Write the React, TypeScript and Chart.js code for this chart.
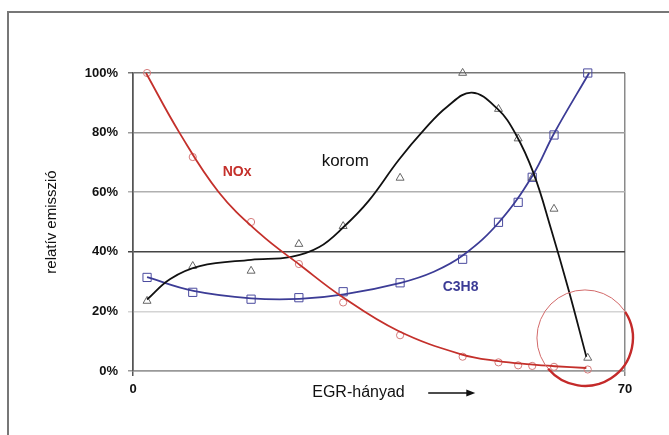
import React, { useEffect, useRef } from "react";
import { Chart, registerables } from "chart.js";

Chart.register(...registerables);

// ---- data ----
const xTicks = [0, 70];
const yTicks = [0, 20, 40, 60, 80, 100];

const egrPoints = [2, 8.5, 16.8, 23.6, 29.9, 38, 46.9, 52, 54.8, 56.8, 59.9, 64.7];
const noxMeasured = [100, 71.8, 50, 35.9, 23, 12, 4.8, 2.9, 1.9, 1.7, 1.4, 0.5];
const c3h8Measured = [31.4, 26.4, 24.1, 24.6, 26.6, 29.6, 37.5, 49.9, 56.6, 65, 79.2, 100];
const koromX = [2, 8.5, 16.8, 23.6, 29.9, 38, 46.9, 52, 54.8, 56.8, 59.9, 64.7];
const koromMeasured = [23.5, 35.2, 33.6, 42.6, 48.6, 64.8, 100, 87.9, 78, 64.8, 54.4, 4.4];

const noxCurveX = [1.85, 6.6, 12.2, 18.1, 23.8, 29.7, 37.7, 46.7, 52, 56.6, 60, 64.5];
const noxCurveY = [100, 80, 60, 46, 35.5, 25, 13.5, 5.6, 3.3, 2.2, 1.6, 1.0];

const c3h8CurveX = [2, 8.6, 16.8, 23.7, 30, 38.1, 42.8, 47, 52.1, 56.9, 59.9, 64.9];
const c3h8CurveY = [31.5, 26.9, 24.4, 24.2, 25.7, 29.6, 33.3, 38.9, 50, 65.8, 79.7, 100];

const koromCurveX = [2, 5.3, 9.5, 16.8, 22.5, 26.5, 30, 33.5, 37.8, 41.4, 44.7, 48.2, 51.8, 54.4, 57, 59.5, 62, 64.5];
const koromCurveY = [24, 30.9, 35.2, 37.3, 38.3, 41.6, 48.4, 57, 70.8, 80.9, 88.7, 93.4, 88.1, 79.7, 66.3, 47.5, 27, 4.8];

const seriesNames = ["NOx", "korom", "C3H8"];
const yTitle = "relatív emisszió";
const xTitle = "EGR-hányad";

// ---- styles ----
const RED = "#c4302b";
const BLACK = "#111111";
const BLUE = "#3c3c96";
const FONT = "'Liberation Sans', Arial, sans-serif";

const zip = (xs: number[], ys: number[]) => xs.map((x, i) => ({ x, y: ys[i] }));

const gridColors: Record<number, string> = {
  0: "#999999",
  20: "#d4d4d4",
  40: "#444444",
  60: "#b0b0b0",
  80: "#9a9a9a",
  100: "#777777",
};

const annotationPlugin = {
  id: "annotations",
  afterDraw(chart: any) {
    const { ctx, scales } = chart;
    const xs = scales.x;
    const ys = scales.y;
    ctx.save();

    // outer frame
    ctx.strokeStyle = "#777777";
    ctx.lineWidth = 2;
    ctx.beginPath();
    ctx.moveTo(8, 440);
    ctx.lineTo(8, 12);
    ctx.lineTo(680, 12);
    ctx.stroke();

    // series labels
    const labels = [
      { text: seriesNames[0], x: 14.8, y: 66.8, color: RED, font: `bold 14px ${FONT}` },
      { text: seriesNames[1], x: 30.2, y: 70.5, color: BLACK, font: `17px ${FONT}` },
      { text: seriesNames[2], x: 46.6, y: 28.1, color: BLUE, font: `bold 14px ${FONT}` },
    ];
    ctx.textAlign = "center";
    ctx.textBaseline = "middle";
    for (const l of labels) {
      ctx.fillStyle = l.color;
      ctx.font = l.font;
      ctx.fillText(l.text, xs.getPixelForValue(l.x), ys.getPixelForValue(l.y));
    }

    // x title + arrow
    const ty = ys.bottom + 22;
    ctx.fillStyle = "#111";
    ctx.font = `16px ${FONT}`;
    ctx.textAlign = "left";
    ctx.fillText(xTitle, xs.getPixelForValue(25.5), ty);
    const ax0 = xs.getPixelForValue(42.0);
    const ax1 = xs.getPixelForValue(48.7);
    ctx.strokeStyle = "#111";
    ctx.lineWidth = 1.5;
    ctx.beginPath();
    ctx.moveTo(ax0, ty);
    ctx.lineTo(ax1 - 6, ty);
    ctx.stroke();
    ctx.beginPath();
    ctx.moveTo(ax1, ty);
    ctx.lineTo(ax1 - 9, ty - 3.5);
    ctx.lineTo(ax1 - 9, ty + 3.5);
    ctx.closePath();
    ctx.fillStyle = "#111";
    ctx.fill();

    // red highlight circle
    const cx = xs.getPixelForValue(64.3);
    const cy = ys.getPixelForValue(11.1);
    const r = 48;
    ctx.strokeStyle = "#d26a6a";
    ctx.lineWidth = 1;
    ctx.beginPath();
    ctx.arc(cx, cy, r, 0, Math.PI * 2);
    ctx.stroke();
    ctx.strokeStyle = "#c42a2a";
    ctx.lineWidth = 2.4;
    ctx.beginPath();
    ctx.arc(cx, cy, r, (-33 * Math.PI) / 180, (140 * Math.PI) / 180);
    ctx.stroke();

    ctx.restore();
  },
};

export default function App() {
  const ref = useRef<HTMLCanvasElement | null>(null);

  useEffect(() => {
    if (!ref.current) return;
    const curve = (data: any[], color: string) => ({
      type: "line" as const,
      data,
      borderColor: color,
      borderWidth: 1.8,
      pointRadius: 0,
      showLine: true,
      fill: false,
      tension: 0.4,
      clip: false,
    });
    const markers = (data: any[], color: string, style: string, radius: number) => ({
      type: "scatter" as const,
      data,
      showLine: false,
      pointStyle: style,
      pointRadius: radius,
      pointBorderWidth: 1,
      pointBorderColor: color,
      pointBackgroundColor: "rgba(255,255,255,0)",
      borderColor: color,
      clip: false,
    });

    const chart = new Chart(ref.current, {
      type: "scatter",
      data: {
        datasets: [
          curve(zip(noxCurveX, noxCurveY), RED),
          curve(zip(koromCurveX, koromCurveY), BLACK),
          curve(zip(c3h8CurveX, c3h8CurveY), BLUE),
          markers(zip(egrPoints, noxMeasured), "#d47b7b", "circle", 3.6),
          markers(zip(koromX, koromMeasured), "#666666", "triangle", 4.6),
          markers(zip(egrPoints, c3h8Measured), "#4a4a9e", "rect", 5.8),
        ] as any,
      },
      options: {
        responsive: false,
        animation: false,
        devicePixelRatio: 1,
        layout: { padding: { left: 0, top: 73, right: 44, bottom: 34 } },
        plugins: { legend: { display: false }, tooltip: { enabled: false } },
        scales: {
          x: {
            type: "linear",
            min: 0,
            max: 70,
            afterBuildTicks: (s: any) => {
              s.ticks = xTicks.map((v) => ({ value: v }));
            },
            afterFit: (s: any) => {
              s.height = 30;
            },
            grid: {
              color: (c: any) => (c.tick && c.tick.value === 70 ? "#8a8a8a" : "#555555"),
              lineWidth: 1.5,
              tickLength: 5,
              drawOnChartArea: true,
            },
            border: { display: true, color: "#999999", width: 1.5 },
            ticks: {
              color: "#111",
              font: { family: FONT, size: 13, weight: "bold" },
              padding: 6,
              maxRotation: 0,
              callback: (v: any) => String(v),
            },
          },
          y: {
            type: "linear",
            min: 0,
            max: 100,
            afterBuildTicks: (s: any) => {
              s.ticks = yTicks.map((v) => ({ value: v }));
            },
            afterFit: (s: any) => {
              s.width = 133;
            },
            grid: {
              color: (c: any) => gridColors[c.tick ? c.tick.value : 0] || "#999",
              lineWidth: 1.5,
              tickLength: 5,
            },
            border: { display: true, color: "#555555", width: 1.5 },
            ticks: {
              color: "#111",
              font: { family: FONT, size: 13, weight: "bold" },
              padding: 10,
              callback: (v: any) => v + "%",
            },
            title: {
              display: true,
              text: yTitle,
              color: "#111",
              font: { family: FONT, size: 15, lineHeight: 1.2 },
              padding: { top: 43, bottom: 0 },
            },
          },
        },
      },
      plugins: [annotationPlugin],
    } as any);
    return () => chart.destroy();
  }, []);

  return (
    <div style={{ position: "fixed", left: 0, top: 0, width: 669, height: 435, background: "#fff" }}>
      <canvas ref={ref} width={669} height={435} style={{ display: "block" }} />
    </div>
  );
}
